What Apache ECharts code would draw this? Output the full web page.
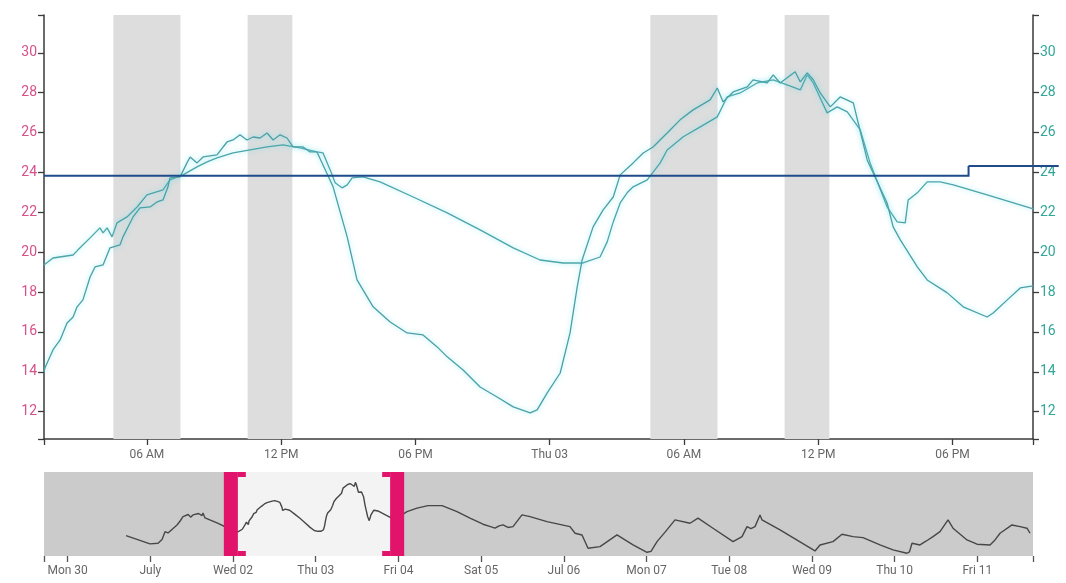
<!DOCTYPE html>
<html><head><meta charset="utf-8">
<script src="https://cdn.jsdelivr.net/npm/echarts@6/dist/echarts.min.js"></script>
<style>html,body{margin:0;padding:0;background:#fff}#c{width:1066px;height:583px}</style>
</head><body><div id="c"></div>
<script>
// ---------- DATA (hours since Wed 02 00:00, temperature) ----------
const mainRange = [1.4, 45.6];
const yRange = [10.63, 31.9];
const yTickValues = [12, 14, 16, 18, 20, 22, 24, 26, 28, 30];
const mainTickHours = [6, 12, 18, 24, 30, 36, 42];
const mainTickLabels = ['06 AM', '12 PM', '06 PM', 'Thu 03', '06 AM', '12 PM', '06 PM'];
const shadedBands = [[4.5, 7.5], [10.5, 12.5], [28.5, 31.5], [34.5, 36.5]];

const seriesA = [
  [1.40,19.36],[1.80,19.71],[2.70,19.86],[2.92,20.12],[3.46,20.72],[3.90,21.22],[4.04,20.97],[4.22,21.22],
  [4.44,20.77],[4.66,21.47],[5.11,21.77],[5.56,22.27],[6.00,22.88],[6.72,23.13],[7.03,23.63],[7.61,23.88],
  [8.24,24.28],[8.69,24.53],[9.13,24.73],[9.85,24.98],[10.61,25.13],[11.37,25.28],[12.08,25.38],[12.84,25.23],
  [13.60,25.03],[13.87,24.98],[14.19,24.13],[14.41,23.48],[14.72,23.23],[14.95,23.38],[15.17,23.73],[15.66,23.78],
  [16.42,23.53],[17.90,22.77],[19.42,21.97],[20.89,21.12],[22.37,20.22],[23.57,19.61],[24.60,19.46],[25.49,19.46],
  [26.25,19.76],[26.57,20.52],[26.84,21.52],[27.15,22.47],[27.46,22.98],[27.73,23.28],[28.36,23.63],[28.94,24.48],
  [29.25,25.13],[29.97,25.79],[30.73,26.29],[31.49,26.79],[31.93,27.79],[32.51,27.99],[33.27,28.49],[33.99,28.65],
  [34.61,28.39],[35.20,28.14],[35.51,28.90],[35.78,28.49],[36.40,26.99],[36.85,27.29],[37.30,27.04],[37.88,26.14],
  [38.32,24.48],[39.08,22.27],[39.53,21.52],[39.89,21.47],[40.02,22.62],[40.43,22.98],[40.87,23.53],[41.45,23.53],
  [42.04,23.38],[43.55,22.88],[45.61,22.17]
];
const seriesB = [
  [1.40,13.99],[1.44,14.19],[1.80,15.10],[2.12,15.60],[2.43,16.45],[2.70,16.75],[2.88,17.26],[3.14,17.61],
  [3.46,18.76],[3.68,19.26],[4.04,19.36],[4.35,20.22],[4.80,20.37],[4.93,20.77],[5.38,21.77],[5.69,22.22],
  [6.14,22.27],[6.45,22.52],[6.72,22.62],[6.94,23.28],[7.03,23.73],[7.48,23.78],[7.79,24.48],[7.93,24.78],
  [8.24,24.48],[8.51,24.78],[9.13,24.88],[9.58,25.53],[9.85,25.63],[10.16,25.89],[10.47,25.63],[10.74,25.78],
  [11.06,25.73],[11.37,25.98],[11.64,25.63],[11.95,25.89],[12.26,25.73],[12.53,25.28],[12.98,25.28],[13.29,25.03],
  [13.60,25.03],[14.32,23.28],[14.95,20.77],[15.39,18.61],[16.11,17.26],[16.87,16.50],[17.63,15.95],[18.34,15.85],
  [18.97,15.25],[19.42,14.75],[20.13,14.09],[20.89,13.24],[21.65,12.74],[22.37,12.24],[23.13,11.94],[23.44,12.09],
  [23.89,12.94],[24.47,13.94],[24.91,15.95],[25.23,18.26],[25.45,19.61],[25.94,21.27],[26.39,22.12],[26.84,22.77],
  [27.15,23.88],[27.73,24.48],[28.18,24.98],[28.62,25.28],[29.25,25.98],[29.83,26.64],[30.41,27.14],[31.17,27.64],
  [31.49,28.24],[31.75,27.54],[32.20,28.04],[32.83,28.29],[33.09,28.65],[33.72,28.49],[33.99,28.90],[34.30,28.49],
  [34.97,29.05],[35.20,28.54],[35.51,29.00],[35.78,28.65],[36.09,27.99],[36.54,27.29],[36.98,27.79],[37.57,27.49],
  [38.19,24.63],[39.08,22.47],[39.35,21.27],[39.67,20.62],[40.43,19.26],[40.87,18.61],[41.77,17.96],[42.48,17.26],
  [43.55,16.75],[43.82,16.95],[44.45,17.61],[45.03,18.21],[45.61,18.31]
];
// setpoint steps: [fromHour, toHour, value]
const setpointHours = [1.4, 42.72, 46.75];
const setpointTemps = [23.84, 24.33];

// navigator
const navRange = [-54.85, 232.15];
const navYRange = [14.7, 30.9];
const navSelection = [1.4, 45.6];
const navTickHours = [-48, -24, 0, 24, 48, 72, 96, 120, 144, 168, 192, 216];
const navTickLabels = ['Mon 30', 'July', 'Wed 02', 'Thu 03', 'Fri 04', 'Sat 05', 'Jul 06', 'Mon 07', 'Tue 08', 'Wed 09', 'Thu 10', 'Fri 11'];
const navBefore = [
  [-31.05,18.63],[-24.09,17.03],[-21.76,17.16],[-20.6,17.9],[-19.73,19.4],[-18.86,19.15],[-16.25,20.69],[-15.4,21.4],
  [-14.51,22.3],[-13.0,22.7],[-12.3,22.2],[-11.61,22.62],[-10.0,22.9],[-9.0,22.5],[-8.71,23.01],[-8.13,22.04],
  [-4.64,21.08],[-1.5,20.1]
];
const navAfter = [
  [47.59,21.99],[50.49,23.26],[53.39,23.92],[56.59,24.42],[60.65,24.42],[65.00,23.26],[68.78,21.99],[72.55,20.83],
  [74.5,20.4],[76.03,20.06],[77.2,20.5],[78.35,20.69],[79.8,20.2],[81.25,20.37],[83.86,22.62],[86.19,22.3],
  [91.12,21.33],[97.79,20.37],[99.25,19.09],[101.28,18.76],[103.02,16.2],[106.5,16.5],[111.43,18.76],[116.08,16.83],
  [120.14,15.42],[121.3,15.6],[123.04,17.47],[125.5,19.4],[128.26,21.66],[132.62,21.02],[134.94,21.99],[139.29,20.06],
  [145.1,17.47],[147.71,18.43],[149.16,20.37],[150.3,20.0],[151.48,20.37],[152.93,22.62],[153.51,21.66],[158.74,19.73],
  [168.89,15.67],[170.34,16.83],[174.11,17.47],[176.73,18.9],[179.92,18.43],[182.82,18.24],[187.75,16.83],[191.53,15.87],
  [195.59,15.23],[196.3,15.5],[197.04,17.16],[199.36,16.83],[201.2,17.6],[203.13,18.43],[205.16,19.4],[207.49,21.66],
  [208.94,20.06],[213.0,17.8],[215.9,16.97],[219.68,16.83],[221.13,17.8],[222.58,19.09],[226.06,20.69],[228.38,20.37],
  [230.41,20.06],[231.28,19.09]
];
const navSeries = navBefore.concat(seriesA, navAfter);

// ---------- CHART ----------
const near = (arr, v) => arr.findIndex(a => Math.abs(a - v) < 0.01);
const FONT = 'Roboto, "DejaVu Sans", sans-serif';
const axisDark = '#3a3a3a';
const lineGlow = {width: 1.3, shadowBlur: 5, shadowColor: 'rgba(110,225,235,0.75)'};
const setpointData = setpointTemps.map((t, i) => [setpointHours[i], setpointHours[i + 1], t, i + 1 < setpointTemps.length ? setpointTemps[i + 1] : t]);

const chart = echarts.init(document.getElementById('c'), null, {renderer: 'canvas'});
chart.setOption({
  animation: false,
  backgroundColor: '#ffffff',
  grid: [
    {left: 44, right: 33, top: 15, height: 424},
    {left: 44, right: 33, top: 472, height: 84, show: true, backgroundColor: '#cbcbcb', borderWidth: 0}
  ],
  xAxis: [
    {
      type: 'value', gridIndex: 0, min: mainRange[0], max: mainRange[1],
      splitLine: {show: false},
      axisLine: {show: true, lineStyle: {color: axisDark, width: 1.5}},
      axisTick: {show: true, length: 6, customValues: [mainRange[0]].concat(mainTickHours, [mainRange[1]]), lineStyle: {color: axisDark, width: 1.3}},
      axisLabel: {customValues: mainTickHours, formatter: v => mainTickLabels[near(mainTickHours, v)] || '', color: '#666', fontSize: 12, fontFamily: FONT, margin: 10}
    },
    {
      type: 'value', gridIndex: 1, min: navRange[0], max: navRange[1],
      splitLine: {show: false},
      axisLine: {show: false},
      axisTick: {show: true, length: 6, customValues: [navRange[0]].concat(navTickHours, [navRange[1]]), lineStyle: {color: '#555', width: 1.3}},
      axisLabel: {customValues: navTickHours, formatter: v => navTickLabels[near(navTickHours, v)] || '', color: '#666', fontSize: 12, fontFamily: FONT, margin: 9}
    }
  ],
  yAxis: [
    {
      type: 'value', gridIndex: 0, min: yRange[0], max: yRange[1], position: 'left',
      splitLine: {show: false},
      axisLine: {show: true, lineStyle: {color: axisDark, width: 1.5}},
      axisTick: {show: true, length: 6, customValues: [yRange[0]].concat(yTickValues, [yRange[1]]), lineStyle: {color: axisDark, width: 1.3}},
      axisLabel: {customValues: yTickValues, color: '#d6508a', fontSize: 14, fontFamily: FONT, margin: 7}
    },
    {
      type: 'value', gridIndex: 0, min: yRange[0], max: yRange[1], position: 'right',
      splitLine: {show: false},
      axisLine: {show: true, lineStyle: {color: axisDark, width: 1.5}},
      axisTick: {show: true, length: 6, customValues: [yRange[0]].concat(yTickValues, [yRange[1]]), lineStyle: {color: axisDark, width: 1.3}},
      axisLabel: {customValues: yTickValues, color: '#33a69a', fontSize: 14, fontFamily: FONT, margin: 7}
    },
    {
      type: 'value', gridIndex: 1, min: navYRange[0], max: navYRange[1], show: false
    }
  ],
  series: [
    {
      name: 'A', type: 'line', xAxisIndex: 0, yAxisIndex: 0, data: seriesA, symbol: 'none',
      lineStyle: Object.assign({color: '#4ba5aa'}, lineGlow), z: 3,
      markArea: {silent: true, itemStyle: {color: '#dddddd'}, data: shadedBands.map(b => [{xAxis: b[0]}, {xAxis: b[1]}])}
    },
    {
      name: 'B', type: 'line', xAxisIndex: 0, yAxisIndex: 1, data: seriesB, symbol: 'none',
      lineStyle: Object.assign({color: '#4aa0a6'}, lineGlow), z: 3
    },
    {
      name: 'Setpoint', type: 'custom', xAxisIndex: 0, yAxisIndex: 0, data: setpointData, clip: false, silent: true, z: 5,
      renderItem: function (params, api) {
        const a = api.coord([api.value(0), api.value(2)]);
        const b = api.coord([api.value(1), api.value(2)]);
        const c = api.coord([api.value(1), api.value(3)]);
        return {type: 'polyline', shape: {points: [a, b, c]}, style: {stroke: '#1f4b8a', lineWidth: 2, fill: null}};
      }
    },
    {
      name: 'Navigator', type: 'line', xAxisIndex: 1, yAxisIndex: 2, data: navSeries, symbol: 'none',
      lineStyle: {color: '#474747', width: 1.4}, z: 3,
      markArea: {silent: true, itemStyle: {color: '#f3f3f3'}, data: [[{xAxis: navSelection[0]}, {xAxis: navSelection[1]}]]}
    },
    {
      name: 'Handles', type: 'custom', xAxisIndex: 1, yAxisIndex: 2, z: 6, silent: true,
      data: [[navSelection[0], 0], [navSelection[1], 1]],
      renderItem: function (params, api) {
        const x = api.value(0), side = api.value(1);
        const top = api.coord([x, navYRange[1]]), bot = api.coord([x, navYRange[0]]);
        const px = top[0], y0 = top[1], y1 = bot[1];
        const bw = 14, sw = 8, sh = 5, col = '#e2136b';
        const barX = side === 0 ? px - bw : px;
        const serX = side === 0 ? px : px - sw;
        return {type: 'group', children: [
          {type: 'rect', shape: {x: barX, y: y0, width: bw, height: y1 - y0}, style: {fill: col}},
          {type: 'rect', shape: {x: serX, y: y0, width: sw, height: sh}, style: {fill: col}},
          {type: 'rect', shape: {x: serX, y: y1 - sh, width: sw, height: sh}, style: {fill: col}}
        ]};
      }
    }
  ]
});
</script></body></html>
